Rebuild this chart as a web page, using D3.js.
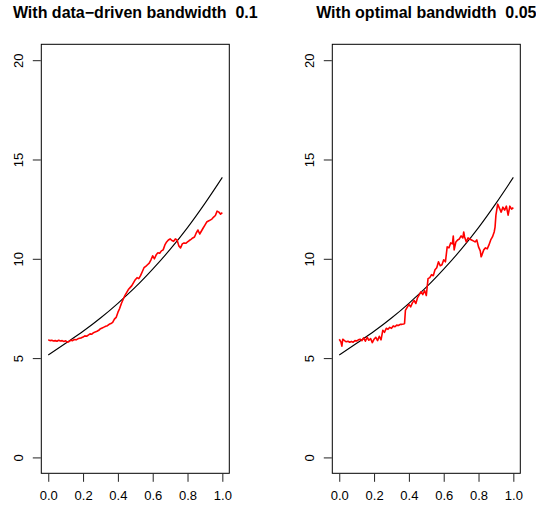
<!DOCTYPE html>
<html>
<head>
<meta charset="utf-8">
<script src="https://cdn.jsdelivr.net/npm/d3@7"></script>
<style>
    body { margin: 0; background: #fff; }
    text { font-family: "Liberation Sans", Arial, sans-serif; }
    .title { font-weight: bold; font-size: 16px; white-space: pre; }
    .label { font-size: 13px; }
</style>
</head>
<body>
<svg id="plot_svg" width="536" height="512"></svg>
<script>

// true curve
let true_x = [0, 0.1, 0.2, 0.3, 0.4, 0.5, 0.6, 0.7, 0.8, 0.9, 1.0];
let true_y = [5.16, 5.75, 6.35, 7.02, 7.76, 8.57, 9.48, 10.47, 11.57, 12.79, 14.1];

// data-driven bandwidth estimate
let dd_x = [0, 0.01, 0.02, 0.03, 0.04, 0.05, 0.06, 0.07, 0.08, 0.09, 0.10, 0.11, 0.12, 0.13, 0.14, 0.15,
    0.16, 0.17, 0.18, 0.19, 0.20, 0.21, 0.22, 0.23, 0.24, 0.25, 0.26, 0.27, 0.28, 0.29, 0.30, 0.31, 0.32,
    0.33, 0.34, 0.35, 0.36, 0.37, 0.38, 0.39, 0.40, 0.41, 0.42, 0.43, 0.44, 0.45, 0.46, 0.47, 0.48, 0.49,
    0.50, 0.51, 0.52, 0.53, 0.54, 0.55, 0.56, 0.57, 0.58, 0.59, 0.60, 0.61, 0.62, 0.63, 0.64, 0.65, 0.66,
    0.67, 0.68, 0.69, 0.70, 0.71, 0.72, 0.73, 0.74, 0.75, 0.76, 0.77, 0.78, 0.79, 0.80, 0.81, 0.82, 0.83,
    0.84, 0.85, 0.86, 0.87, 0.88, 0.89, 0.90, 0.91, 0.92, 0.93, 0.94, 0.95, 0.96, 0.97, 0.98, 0.99, 1.00];
let dd_y = [5.92, 5.88, 5.90, 5.86, 5.88, 5.85, 5.90, 5.86, 5.88, 5.84, 5.87, 5.80, 5.84, 5.90, 5.88, 5.94,
    5.92, 5.97, 6.00, 6.02, 6.06, 6.12, 6.10, 6.16, 6.22, 6.20, 6.28, 6.32, 6.35, 6.40, 6.48, 6.52, 6.56,
    6.60, 6.63, 6.70, 6.74, 6.80, 6.96, 7.05, 7.30, 7.50, 7.75, 7.95, 8.15, 8.30, 8.45, 8.55, 8.65, 8.80,
    8.95, 9.05, 9.00, 9.15, 9.35, 9.55, 9.62, 9.70, 9.78, 9.95, 10.15, 10.00, 10.20, 10.30, 10.28, 10.40, 10.45,
    10.70, 10.85, 10.95, 11.00, 10.92, 10.88, 11.00, 10.95, 10.65, 10.55, 10.75, 10.80, 10.78, 10.85, 10.92, 10.98, 11.05,
    11.10, 11.30, 11.45, 11.25, 11.40, 11.55, 11.70, 11.85, 11.90, 11.95, 12.00, 12.10, 12.18, 12.40, 12.35, 12.25, 12.32];

// optimal bandwidth estimate
let opt_x = [0, 0.01, 0.015, 0.02, 0.03, 0.04, 0.05, 0.06, 0.07, 0.08, 0.09, 0.10, 0.11, 0.12, 0.13, 0.14,
    0.15, 0.16, 0.17, 0.18, 0.19, 0.20, 0.21, 0.22, 0.23, 0.24, 0.25, 0.26, 0.27, 0.28, 0.29, 0.30, 0.31,
    0.32, 0.33, 0.34, 0.35, 0.36, 0.37, 0.375, 0.38, 0.39, 0.40, 0.41, 0.42, 0.43, 0.44, 0.45, 0.46, 0.47,
    0.48, 0.49, 0.50, 0.51, 0.52, 0.53, 0.54, 0.55, 0.56, 0.57, 0.58, 0.59, 0.60, 0.61, 0.62, 0.63, 0.64,
    0.65, 0.655, 0.66, 0.67, 0.68, 0.69, 0.70, 0.71, 0.715, 0.72, 0.73, 0.74, 0.75, 0.76, 0.77, 0.78, 0.79,
    0.80, 0.81, 0.815, 0.82, 0.83, 0.84, 0.85, 0.86, 0.87, 0.88, 0.89, 0.895, 0.90, 0.91, 0.92, 0.93, 0.94,
    0.95, 0.96, 0.97, 0.98, 0.99, 1.00];
let opt_y = [5.95, 5.80, 5.60, 5.95, 5.88, 5.82, 5.85, 5.80, 5.84, 5.80, 5.88, 5.86, 5.92, 5.95, 5.88, 6.02,
    5.85, 6.05, 5.90, 5.98, 5.78, 5.95, 6.05, 5.88, 6.10, 5.92, 6.40, 6.30, 6.50, 6.45, 6.55, 6.50, 6.62,
    6.58, 6.66, 6.64, 6.70, 6.70, 6.72, 6.74, 7.40, 7.55, 7.70, 7.58, 7.78, 7.90, 7.75, 8.05, 8.20, 8.35,
    8.20, 8.40, 8.15, 9.00, 9.05, 9.20, 9.15, 9.45, 9.55, 9.85, 9.65, 9.70, 9.95, 9.85, 10.60, 10.55, 10.80,
    10.75, 11.15, 10.45, 10.85, 10.95, 11.00, 11.15, 11.05, 11.35, 11.10, 10.85, 11.05, 11.00, 10.95, 10.90, 10.85, 10.95,
    10.60, 10.40, 10.10, 10.20, 10.45, 10.55, 10.50, 10.70, 10.95, 11.10, 11.35, 11.60, 12.20, 12.75, 12.55, 12.35, 12.60,
    12.45, 12.65, 12.20, 12.65, 12.50, 12.58];

let x_ticks = [0, 0.2, 0.4, 0.6, 0.8, 1.0];
let y_ticks = [0, 5, 10, 15, 20];

let titles = ["With data\u2212driven bandwidth  0.1", "With optimal bandwidth  0.05"];

function drawPanel(svg, left, title, est_x, est_y) {
    let box = {x0: left, x1: left + 188, y0: 44.3, y1: 473.3};

    // R style: 4% padding on both ends
    let x = d3.scaleLinear().domain([-0.04, 1.04]).range([box.x0, box.x1]);
    let y = d3.scaleLinear().domain([-0.8, 20.8]).range([box.y1, box.y0]);

    let g = svg.append("g");

    g.append("text")
        .attr("class", "title")
        .attr("x", (box.x0 + box.x1) / 2)
        .attr("y", 18)
        .attr("text-anchor", "middle")
        .text(title);

    // x axis, drawn below the box
    let xAxis = g.append("g")
        .attr("transform", "translate(0," + (box.y1 + 0.5) + ")")
        .call(d3.axisBottom(x).tickValues(x_ticks).tickSize(8).tickPadding(9).tickFormat(d3.format(".1f")));
    xAxis.select(".domain").remove();
    xAxis.selectAll("line").attr("stroke", "#222");
    xAxis.selectAll("text").attr("class", "label").attr("font-size", null).attr("font-family", null);

    // y axis with rotated labels
    let yAxis = g.append("g")
        .attr("transform", "translate(" + (box.x0 - 0.5) + ",0)")
        .call(d3.axisLeft(y).tickValues(y_ticks).tickSize(8).tickFormat(""));
    yAxis.select(".domain").remove();
    yAxis.selectAll("line").attr("stroke", "#222");
    yAxis.selectAll(".tick").append("text")
        .attr("class", "label")
        .attr("fill", "#000")
        .attr("transform", "translate(-22,0) rotate(-90)")
        .attr("text-anchor", "middle")
        .attr("dy", "0.35em")
        .text(d => d);

    // true curve
    let pts = true_x.map((v, i) => [v, true_y[i]]);
    g.append("path")
        .datum(pts)
        .attr("fill", "none")
        .attr("stroke", "#000")
        .attr("stroke-width", 1.1)
        .attr("d", d3.line().x(d => x(d[0])).y(d => y(d[1])).curve(d3.curveMonotoneX));

    // kernel estimate
    let est = est_x.map((v, i) => [v, est_y[i]]);
    g.append("path")
        .datum(est)
        .attr("fill", "none")
        .attr("stroke", "#ff0000")
        .attr("stroke-width", 1.6)
        .attr("stroke-linejoin", "round")
        .attr("d", d3.line().x(d => x(d[0])).y(d => y(d[1])));

    // box
    g.append("rect")
        .attr("x", box.x0)
        .attr("y", box.y0)
        .attr("width", box.x1 - box.x0)
        .attr("height", box.y1 - box.y0)
        .attr("fill", "none")
        .attr("stroke", "#000")
        .attr("stroke-width", 1);
}

let svg = d3.select("#plot_svg");
drawPanel(svg, 41.3, titles[0], dd_x, dd_y);
drawPanel(svg, 332.3, titles[1], opt_x, opt_y);

</script>
</body>
</html>
